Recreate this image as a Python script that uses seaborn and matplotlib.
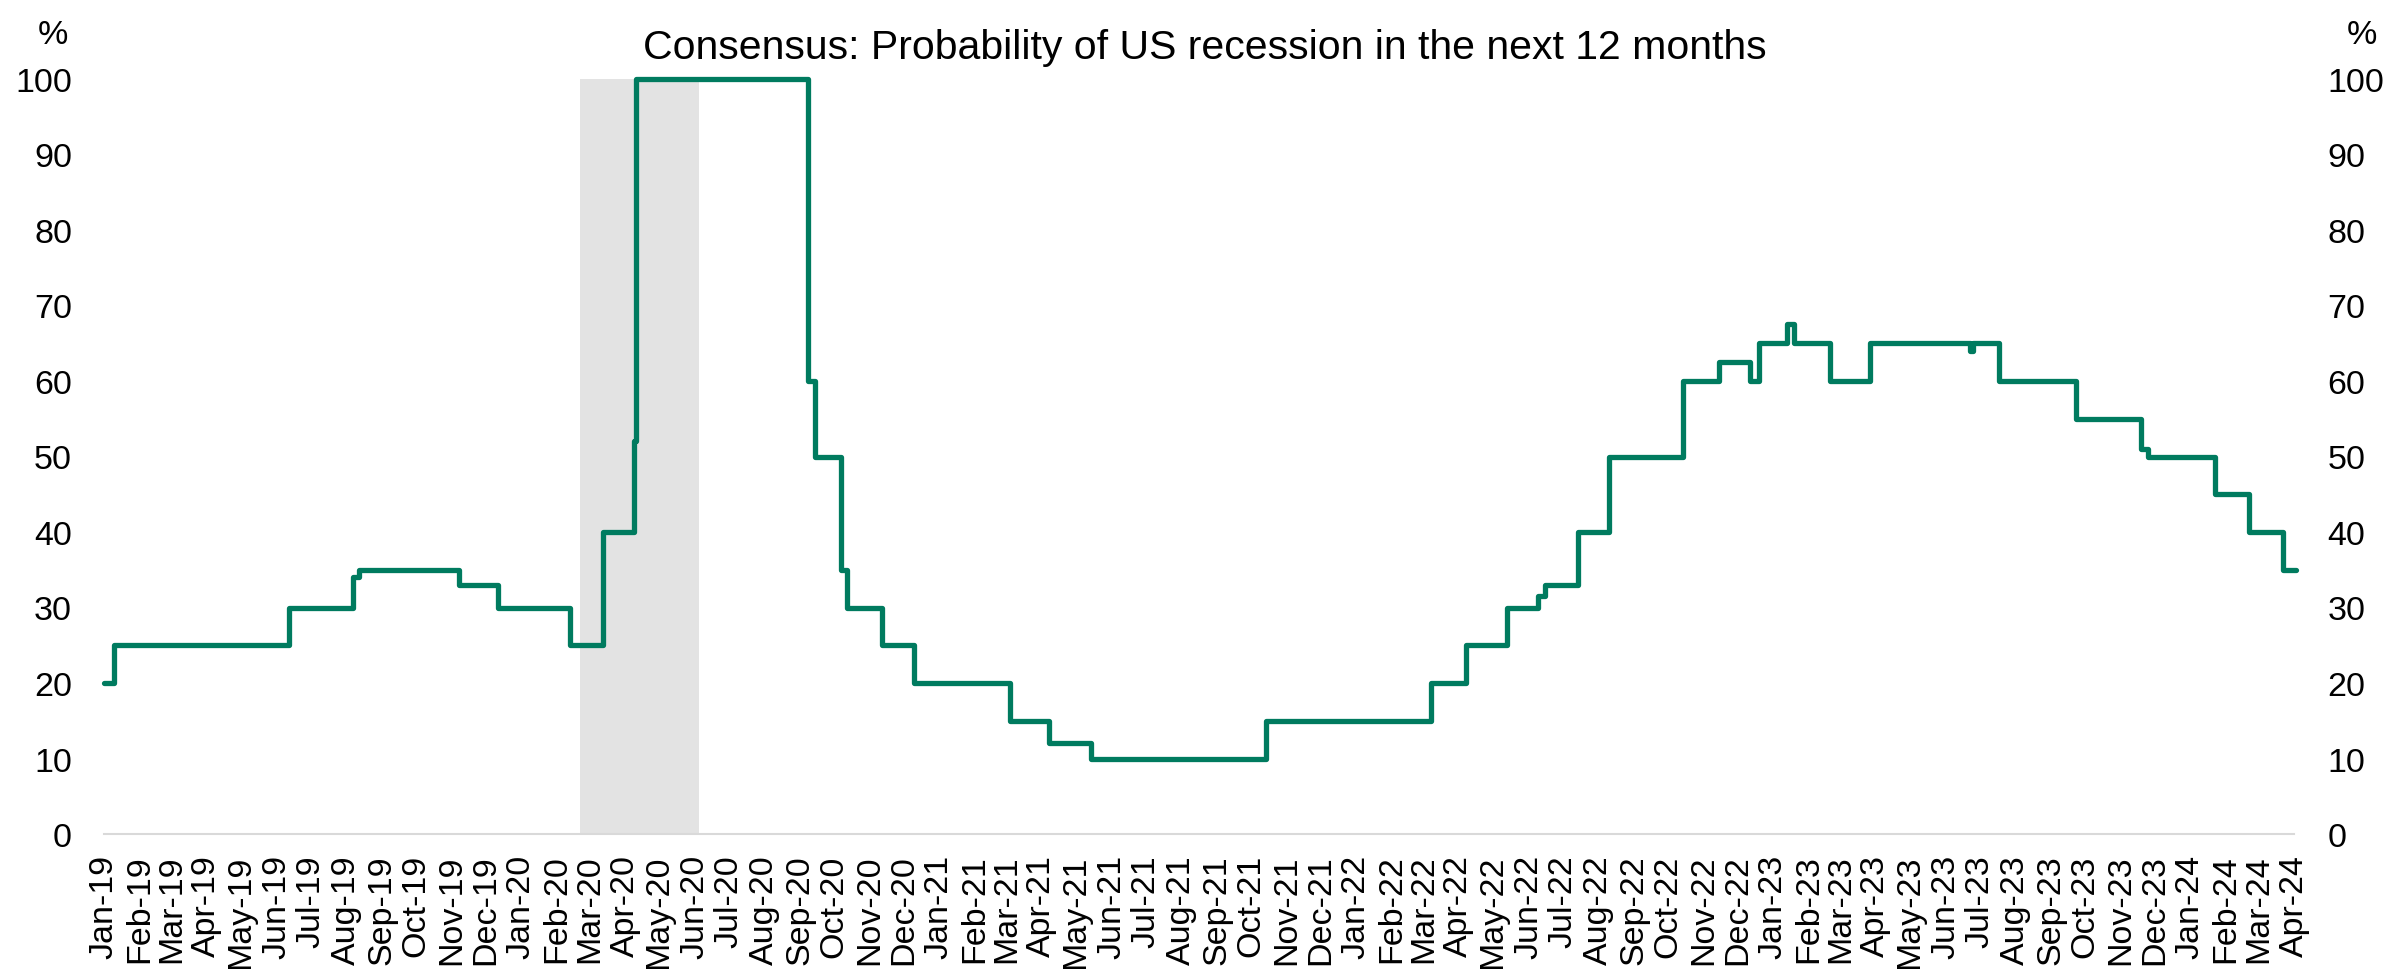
import pandas as pd
import matplotlib
matplotlib.use("Agg")
import matplotlib.pyplot as plt
import matplotlib.dates as mdates
import seaborn as sns

# Consensus probability of a US recession at each change
change_dates = [
    "2019-01-01", "2019-01-10", "2019-06-12", "2019-08-07", "2019-08-12",
    "2019-11-08", "2019-12-12", "2020-02-13", "2020-03-13", "2020-04-09",
    "2020-04-11", "2020-09-08", "2020-09-14", "2020-10-07", "2020-10-12",
    "2020-11-12", "2020-12-10", "2021-03-04", "2021-04-07", "2021-05-14",
    "2021-10-14", "2022-03-08", "2022-04-07", "2022-05-13", "2022-06-09",
    "2022-06-15", "2022-07-14", "2022-08-10", "2022-10-14", "2022-11-15",
    "2022-12-12", "2022-12-20", "2023-01-13", "2023-01-19", "2023-02-20",
    "2023-03-27", "2023-06-22", "2023-06-25", "2023-07-18", "2023-09-23",
    "2023-11-19", "2023-11-25", "2024-01-23", "2024-02-22", "2024-03-22",
    "2024-04-03",
]
probability = [
    20, 25, 30, 34, 35,
    33, 30, 25, 40, 52,
    100, 60, 50, 35, 30,
    25, 20, 15, 12, 10,
    15, 20, 25, 30, 31.5,
    33, 40, 50, 60, 62.5,
    60, 65, 67.5, 65, 60,
    65, 64, 65, 60, 55,
    51, 50, 45, 40, 35,
    35,
]

# recession shading
recession_start = "2020-02-22"
recession_end = "2020-06-05"

y_ticks = [0, 10, 20, 30, 40, 50, 60, 70, 80, 90, 100]
title = "Consensus: Probability of US recession in the next 12 months"

line_color = "#007b5f"
band_color = "#e3e3e3"
axis_grey = "#d9d9d9"

sns.set_style("white")
plt.rcParams["font.family"] = ["Liberation Sans", "DejaVu Sans"]
plt.rcParams["text.color"] = "black"
plt.rcParams["xtick.labelcolor"] = "black"
plt.rcParams["ytick.labelcolor"] = "black"

df = pd.DataFrame({"date": pd.to_datetime(change_dates), "value": probability})

fig = plt.figure(figsize=(23.9, 9.7), dpi=100)
ax = fig.add_axes([104 / 2390, 1 - 835 / 970, (2294 - 104) / 2390, (835 - 80) / 970])

ax.axvspan(pd.Timestamp(recession_start), pd.Timestamp(recession_end),
           color=band_color, lw=0, zorder=0)

sns.lineplot(data=df, x="date", y="value", drawstyle="steps-post",
             color=line_color, lw=3.8, ax=ax, clip_on=False, zorder=3)

ax.set_xlim(pd.Timestamp("2019-01-01"), pd.Timestamp("2024-04-01"))
ax.set_ylim(0, 100)
ax.set_yticks(y_ticks)
ax.set_xlabel("")
ax.set_ylabel("")

ax.xaxis.set_major_locator(mdates.MonthLocator())
ax.xaxis.set_major_formatter(mdates.DateFormatter("%b-%y"))
ax.tick_params(axis="x", which="major", length=6.5, width=1.5, color=axis_grey,
               labelsize=24.5, labelcolor="black", pad=8, labelrotation=90)
ax.tick_params(axis="y", length=0, labelsize=24.5, labelcolor="black", pad=23)

for side in ["left", "right", "top"]:
    ax.spines[side].set_visible(False)
ax.spines["bottom"].set_color(axis_grey)
ax.spines["bottom"].set_linewidth(1.5)

# right hand axis mirrors the left one
ax2 = ax.twinx()
ax2.set_ylim(0, 100)
ax2.set_yticks(y_ticks)
ax2.tick_params(axis="y", length=0, labelsize=24.5, labelcolor="black", pad=24)
for side in ["left", "right", "top", "bottom"]:
    ax2.spines[side].set_visible(False)

fig.text(53 / 2390, 1 - 36 / 970, "%", ha="center", va="center", fontsize=24.5, color="black")
fig.text(2362 / 2390, 1 - 36 / 970, "%", ha="center", va="center", fontsize=24.5, color="black")
fig.text(1205 / 2390, 1 - 48 / 970, title, ha="center", va="center", fontsize=29.5, color="black")

fig.savefig("out.png", dpi=100)
plt.close(fig)
